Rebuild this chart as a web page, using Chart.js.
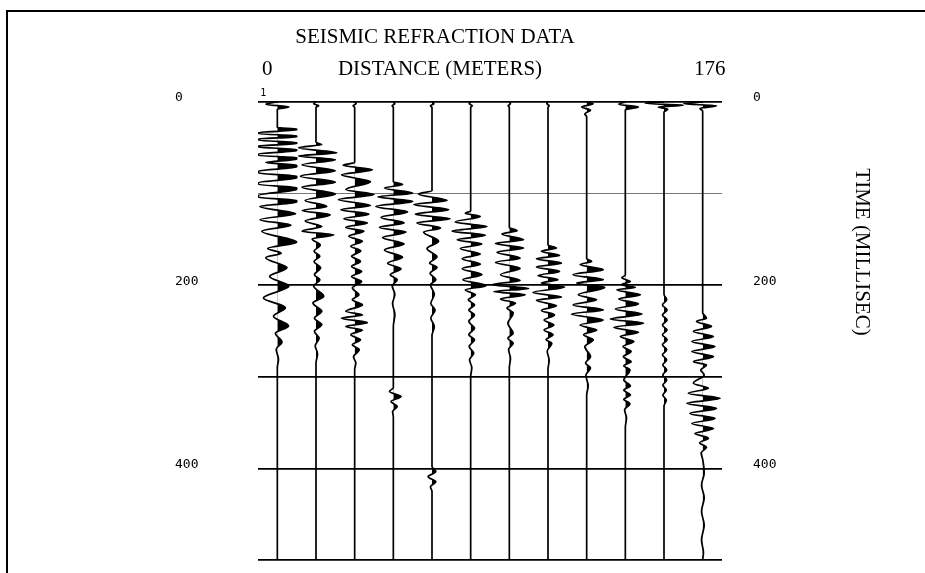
<!DOCTYPE html>
<html lang="en">
<head>
<meta charset="UTF-8">
<title>Seismic refraction data</title>
<script src="https://cdn.jsdelivr.net/npm/chart.js"></script>
<style>
    html, body { margin: 0; padding: 0; background: #fff; }
    #grafico { display: block; }
</style>
</head>
<body>
<canvas id="grafico" width="925" height="573"></canvas>
<script>
    // geophone traces, left to right (x position = trace number)
    const traceNumbers = [1, 2, 3, 4, 5, 6, 7, 8, 9, 10, 11, 12];
    // time axis (ms)
    const timeGrid = [0, 100, 200, 300, 400, 500];
    const timeLabels = [0, 200, 400];
    const distanceLabels = ['0', '176'];

    // each trace: [time ms, amplitude] at the wiggle extrema,
    // amplitude in trace spacings, positive (right) lobes are shaded black
    // (pairs of equal values = clipped, flat-ended lobes)
    const trace1 = [[0,0],[2.5,-0.3],[5.5,0.3],[8,0],[28,0],[29.3,0.5],[30.7,0.5],[33.3,-0.49],[34.7,-0.49],[36.8,0.5],[38.2,0.5],[40.3,-0.49],[41.7,-0.49],[44.3,0.5],[45.7,0.5],[47.8,-0.49],[49.2,-0.49],[51.8,0.5],[53.2,0.5],[56.6,-0.49],[58.4,-0.49],[60.6,0.5],[62.4,0.5],[66,-0.3],[69,0.5],[71,0.5],[75.5,-0.49],[77.5,-0.49],[81,0.5],[83,0.5],[88,-0.49],[90,-0.49],[93.5,0.5],[95.5,0.5],[102,-0.49],[104,-0.49],[107.5,0.5],[109.5,0.5],[114,-0.45],[122,0.47],[128.5,-0.45],[134.5,0.35],[141,-0.4],[153,0.5],[160,-0.25],[165,0.1],[170,-0.3],[181,0.25],[190.5,-0.2],[201,0.3],[214,-0.36],[224.5,0.21],[234,-0.1],[244.5,0.29],[252.5,-0.05],[262,0.12],[270,-0.03],[281,0.03],[290,0],[500,0]];
    const trace2 = [[0,0],[2,-0.06],[4,0.07],[6,0],[44,0],[46.5,0.15],[50,-0.45],[55.5,0.54],[59,-0.45],[63,0.5],[68.5,-0.36],[75,0.5],[81,-0.4],[87.5,0.5],[93,-0.36],[100.5,0.5],[107.5,-0.28],[114,0.28],[118.5,-0.36],[123,0.37],[130,-0.28],[136,0.15],[141,-0.36],[145,0.46],[149.5,-0.1],[156,0.11],[163,-0.05],[168.5,0.1],[174,-0.05],[181,0.12],[188.5,-0.04],[194,0.1],[201,-0.06],[212,0.2],[219.5,-0.08],[228.5,0.15],[236,-0.04],[243,0.15],[250.5,-0.04],[258,0.08],[266,-0.02],[275,0.04],[285,0],[500,0]];
    const trace3 = [[0,0],[2,0.04],[4,-0.04],[6,0],[66,0],[69,-0.3],[74,0.46],[79.5,-0.34],[87,0.41],[95.5,-0.23],[101,0.5],[106.5,-0.42],[113,0.41],[117.5,-0.36],[122.5,0.37],[127.5,-0.28],[132,0.33],[137,-0.23],[141,0.24],[146.5,-0.15],[152,0.2],[157.5,-0.1],[162.5,0.16],[168.5,-0.08],[174,0.15],[179.5,-0.08],[185,0.18],[190.5,-0.08],[196,0.18],[203,-0.06],[210.5,0.11],[216,-0.06],[221.5,0.2],[228.5,-0.23],[232.5,0.2],[236,-0.34],[241,0.33],[245,-0.23],[249,0.2],[254,-0.1],[259.5,0.15],[265,-0.06],[270.5,0.12],[278,-0.03],[285,0.03],[292,0],[500,0]];
    const trace4 = [[0,0],[2,0.04],[4,-0.03],[6,0],[87,0],[90,0.24],[94,-0.23],[99.5,0.5],[103.5,-0.4],[108.5,0.5],[114,-0.45],[120,0.37],[126,-0.32],[132,0.28],[137,-0.36],[142,0.33],[148,-0.28],[155,0.28],[161.5,-0.23],[169.5,0.24],[176,-0.15],[182,0.2],[188.5,-0.08],[194,0.1],[201,-0.03],[210,0.04],[220,-0.02],[232,0.04],[245,0],[312,0],[316,-0.1],[321.5,0.2],[327,-0.06],[332.5,0.1],[338,-0.02],[344,0],[500,0]];
    const trace5 = [[0,0],[2,0.05],[4,-0.04],[6,0],[97,0],[100.5,-0.35],[107.5,0.39],[112,-0.47],[117.5,0.43],[122.5,-0.43],[127.5,0.47],[132,-0.39],[137.5,0.22],[142,-0.22],[152,0.17],[160,-0.13],[169,0.13],[176,-0.06],[180.5,0.13],[187,-0.05],[194,0.1],[199.5,-0.04],[210,0.06],[220,-0.03],[227,0.08],[236,-0.03],[245,0.06],[255,0],[398,0],[403.5,0.1],[409,-0.1],[414.5,0.1],[420,-0.04],[425,0],[500,0]];
    const trace6 = [[0,0],[2,-0.04],[4,0.04],[6,0],[119,0],[121.5,-0.14],[125,0.25],[131,-0.4],[136,0.42],[141,-0.48],[145.5,0.38],[150.5,-0.35],[155,0.29],[160,-0.27],[166,0.25],[171,-0.22],[177,0.25],[182,-0.22],[188.5,0.29],[194,-0.2],[200.5,0.4],[205,-0.14],[210.5,0.12],[216,-0.06],[221.5,0.1],[227,-0.05],[232.5,0.1],[239.5,-0.05],[247,0.1],[254,-0.05],[259.5,0.1],[267,-0.04],[274,0.08],[281.5,-0.03],[290,0.03],[300,0],[500,0]];
    const trace7 = [[0,0],[2,0.03],[4,-0.03],[6,0],[137,0],[140.5,0.2],[144,-0.19],[150.5,0.37],[154.5,-0.36],[159.5,0.37],[164,-0.32],[170.5,0.28],[175,-0.36],[181.5,0.28],[188.5,-0.23],[195,0.28],[199.5,-0.45],[203.5,0.5],[207,-0.4],[210.5,0.41],[215,-0.23],[219.5,0.16],[225,-0.06],[230.5,0.1],[241.5,-0.04],[252.5,0.1],[258,-0.04],[263.5,0.1],[270,-0.02],[280,0.03],[290,0],[500,0]];
    const trace8 = [[0,0],[2,-0.03],[4,0.03],[6,0],[156,0],[159.5,0.22],[163,-0.17],[167.5,0.3],[171,-0.3],[176,0.35],[180,-0.3],[185,0.3],[189.5,-0.26],[194,0.26],[197.5,-0.17],[202,0.43],[208,-0.39],[213,0.35],[216.5,-0.3],[222.5,0.22],[227.5,-0.17],[232.5,0.17],[238,-0.1],[243.5,0.15],[249,-0.1],[254,0.13],[259.5,-0.05],[263.5,0.1],[272,-0.02],[282,0.03],[292,0],[500,0]];
    const trace9 = [[0,0],[2,0.17],[5.5,-0.13],[9,0.1],[13,-0.05],[16,0],[171,0],[174,0.13],[177.5,-0.17],[183,0.43],[188.5,-0.35],[194,0.43],[197.5,-0.26],[202.5,0.47],[210.5,-0.22],[216,0.26],[221.5,-0.35],[227,0.43],[231.5,-0.39],[238,0.43],[243.5,-0.17],[249,0.26],[254,-0.08],[259.5,0.17],[267,-0.05],[278,0.1],[285,-0.03],[290.5,0.1],[298,-0.02],[310,0.04],[320,0],[500,0]];
    const trace10 = [[0,0],[2.5,-0.17],[5.5,0.34],[8.5,0],[189,0],[192,-0.09],[196,0.13],[199.5,-0.1],[202.5,0.26],[205,-0.22],[210.5,0.39],[215,-0.17],[220.5,0.34],[226,-0.26],[231.5,0.43],[237,-0.39],[241.5,0.47],[246,-0.3],[251.5,0.34],[256,-0.13],[261.5,0.22],[267,-0.06],[272.5,0.15],[278,-0.05],[283.5,0.15],[288,-0.04],[292.5,0.12],[303.5,-0.04],[310,0.13],[314.5,-0.04],[320,0.13],[324.5,-0.04],[329.5,0.12],[336,-0.02],[345,0.03],[355,0],[500,0]];
    const trace11 = [[0,0],[1.5,-0.49],[3.5,0.5],[5.5,-0.15],[8,0.1],[11,0],[210,0],[216,0.07],[221.5,-0.04],[227,0.08],[232.5,-0.04],[238,0.08],[243.5,-0.04],[249,0.08],[254,-0.04],[259.5,0.08],[265,-0.04],[270.5,0.07],[276,-0.04],[281.5,0.07],[287,-0.03],[292.5,0.07],[298,-0.03],[303.5,0.07],[309,-0.03],[314.5,0.06],[320,-0.03],[325.5,0.06],[332,0],[500,0]];
    const trace12 = [[0,0],[2,-0.49],[4,0.36],[7,-0.07],[10,0],[230,0],[236,0.1],[239.5,-0.16],[245,0.23],[250.5,-0.24],[256,0.28],[261.5,-0.28],[267,0.32],[272.5,-0.28],[278,0.28],[283.5,-0.24],[287,0.1],[292.5,-0.05],[298,0.04],[307,-0.24],[312.5,0.15],[318,-0.37],[323.5,0.45],[329,-0.41],[334.5,0.36],[340,-0.33],[345.5,0.32],[351,-0.28],[356.5,0.28],[362,-0.2],[367,0.15],[372,-0.08],[377,0.1],[383,-0.04],[390,0],[405,0.04],[418,-0.03],[432,0.04],[447,-0.03],[462,0.04],[478,-0.03],[492,0.02],[500,0]];

    const traces = [trace1, trace2, trace3, trace4, trace5, trace6, trace7, trace8, trace9, trace10, trace11, trace12];

    function pontosDoTraco(traco, posicao) {
        return traco.map(p => ({ x: posicao + p[1], y: p[0] }));
    }

    // shaded lobes first (order 2), then the wiggle lines on top (order 1)
    let datasets = [];
    traces.forEach((traco, i) => {
        datasets.push({
            data: pontosDoTraco(traco, traceNumbers[i]),
            borderColor: 'rgba(0,0,0,0)',
            borderWidth: 0,
            backgroundColor: '#000',
            fill: { value: traceNumbers[i] },
            pointRadius: 0,
            cubicInterpolationMode: 'monotone',
            order: 2
        });
    });
    traces.forEach((traco, i) => {
        datasets.push({
            data: pontosDoTraco(traco, traceNumbers[i]),
            borderColor: '#000',
            borderWidth: 1.7,
            fill: false,
            pointRadius: 0,
            cubicInterpolationMode: 'monotone',
            order: 1
        });
    });

    // only keep the shading on the right side of each trace line
    const recorte = {
        id: 'recorte',
        beforeDatasetsDraw(chart) {
            const { ctx, chartArea, scales } = chart;
            const passo = scales.x.getPixelForValue(2) - scales.x.getPixelForValue(1);
            ctx.save();
            ctx.beginPath();
            traceNumbers.forEach(n => {
                ctx.rect(scales.x.getPixelForValue(n), chartArea.top - 2, passo * 0.515, chartArea.bottom - chartArea.top + 4);
            });
            ctx.clip();
        },
        afterDatasetDraw(chart, args) {
            if (args.index === 0) chart.ctx.restore();
        }
    };

    // paper, frame and the typed captions
    const papel = {
        id: 'papel',
        beforeDraw(chart) {
            const ctx = chart.ctx;
            ctx.save();
            ctx.fillStyle = '#fff';
            ctx.fillRect(0, 0, chart.width, chart.height);
            ctx.strokeStyle = '#000';
            ctx.lineWidth = 2;
            ctx.beginPath();
            ctx.moveTo(7, chart.height);
            ctx.lineTo(7, 11);
            ctx.lineTo(chart.width, 11);
            ctx.stroke();
            ctx.restore();
        },
        afterDraw(chart) {
            const ctx = chart.ctx;
            const x = chart.scales.x;
            const y = chart.scales.y;
            ctx.save();
            ctx.fillStyle = '#000';
            ctx.textBaseline = 'middle';
            ctx.textAlign = 'center';
            ctx.font = '21px "Liberation Serif"';
            ctx.fillText('SEISMIC REFRACTION DATA', 435, 37);
            ctx.fillText('DISTANCE (METERS)', 440, 69);
            ctx.fillText(distanceLabels[0], x.getPixelForValue(traceNumbers[0]) - 10, 69);
            ctx.fillText(distanceLabels[1], x.getPixelForValue(traceNumbers[11]) + 7, 69);

            ctx.font = '10px "DejaVu Sans Mono"';
            ctx.fillText(String(traceNumbers[0]), x.getPixelForValue(traceNumbers[0]) - 14, y.getPixelForValue(0) - 9);

            ctx.font = '21px "Liberation Serif"';
            ctx.translate(862, 252);
            ctx.rotate(Math.PI / 2);
            ctx.fillText('TIME (MILLISEC)', 0, 0);
            ctx.restore();
        }
    };

    const eixoFonte = { family: 'DejaVu Sans Mono', size: 13 };
    const rotuloTempo = v => timeLabels.includes(v) ? String(v) : '';

    // fixed axis widths, and no extra label padding above/below the plot
    function larguraEixo(w) {
        return s => { s.width = w; s.paddingTop = 0; s.paddingBottom = 0; };
    }

    const config = {
        type: 'line',
        data: { datasets: datasets },
        options: {
            responsive: false,
            animation: false,
            indexAxis: 'y',
            layout: { padding: { left: 175, right: 0, top: 102, bottom: 13 } },
            plugins: {
                legend: { display: false },
                tooltip: { enabled: false }
            },
            scales: {
                x: { type: 'linear', min: 0.5, max: 12.5, display: false },
                y: {
                    type: 'linear',
                    position: 'left',
                    reverse: true,
                    min: timeGrid[0],
                    max: timeGrid[timeGrid.length - 1],
                    afterFit: larguraEixo(83),
                    afterBuildTicks: s => { s.ticks = timeGrid.map(v => ({ value: v })); },
                    border: { display: false },
                    grid: {
                        drawTicks: false,
                        color: c => (c.tick && c.tick.value === 100) ? '#777' : '#000',
                        lineWidth: c => (c.tick && c.tick.value === 100) ? 1 : 1.8
                    },
                    ticks: { crossAlign: 'far', padding: 0, labelOffset: -4, color: '#000', font: eixoFonte, callback: rotuloTempo }
                },
                y2: {
                    type: 'linear',
                    position: 'right',
                    reverse: true,
                    min: timeGrid[0],
                    max: timeGrid[timeGrid.length - 1],
                    afterFit: larguraEixo(203),
                    afterBuildTicks: s => { s.ticks = timeGrid.map(v => ({ value: v })); },
                    border: { display: false },
                    grid: { display: false, drawTicks: false },
                    ticks: { crossAlign: 'near', padding: 31, labelOffset: -4, color: '#000', font: eixoFonte, callback: rotuloTempo }
                }
            }
        },
        plugins: [papel, recorte]
    };

    new Chart(document.getElementById('grafico'), config);
</script>
</body>
</html>
